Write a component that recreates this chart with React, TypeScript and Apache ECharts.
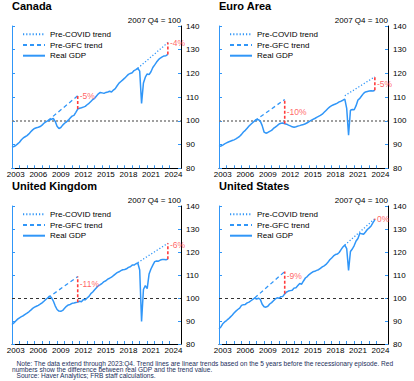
import React, { useEffect, useRef } from 'react';
import * as echarts from 'echarts';

// quarterly categories 2003Q1 .. 2025Q3 (axis runs a little past the data)
const quarters: string[] = [];
for (let y = 2003; y <= 2025; y++) {
  for (let q = 1; q <= 4; q++) {
    if (quarters.length < 91) quarters.push(`${y}Q${q}`);
  }
}

// Real GDP, 2007 Q4 = 100, 2003Q1 .. 2023Q4
const canadaGDP = [
  89.0, 89.2, 89.6, 90.3, 91.0, 92.0, 92.8, 93.3, 93.8, 94.5, 95.4, 96.2,
  96.8, 97.1, 97.3, 97.6, 98.2, 99.0, 99.6, 100.0, 100.3, 100.7, 101.0, 99.8,
  97.7, 96.8, 97.2, 98.2, 99.0, 99.6, 100.3, 101.2, 102.0, 102.3, 103.6, 105.0,
  105.3, 105.5, 105.8, 106.1, 106.8, 107.4, 108.2, 109.0, 109.5, 110.5, 111.4, 112.0,
  111.8, 111.6, 112.0, 112.2, 112.5, 112.2, 113.0, 113.6, 114.8, 115.9, 116.6, 117.3,
  118.0, 118.8, 119.6, 120.0, 120.3, 121.2, 121.6, 122.2, 121.0, 107.3, 116.0, 118.4,
  119.8, 119.5, 120.7, 122.5, 123.6, 124.8, 125.8, 126.5, 127.0, 127.4, 127.5, 128.0,
];
const euroGDP = [
  89.2, 89.4, 89.8, 90.3, 90.7, 91.1, 91.4, 91.7, 92.0, 92.4, 92.9, 93.5,
  94.3, 95.3, 96.0, 96.9, 97.8, 98.6, 99.3, 100.0, 100.6, 100.5, 99.9, 98.0,
  95.3, 94.8, 95.1, 95.6, 96.0, 96.8, 97.4, 98.0, 98.7, 99.0, 99.1, 98.8,
  98.6, 98.2, 97.9, 97.5, 97.3, 97.5, 97.8, 98.0, 98.3, 98.5, 98.8, 99.2,
  99.7, 100.2, 100.6, 101.0, 101.5, 101.9, 102.3, 102.8, 103.6, 104.4, 105.2, 105.9,
  106.4, 106.8, 107.1, 107.5, 108.0, 108.3, 108.7, 109.2, 105.3, 94.0, 104.5, 104.8,
  104.7, 106.4, 108.8, 109.5, 110.6, 111.6, 112.2, 112.4, 112.6, 112.7, 112.6, 112.9,
];
const ukGDP = [
  88.5, 89.2, 90.0, 90.8, 91.4, 91.9, 92.3, 92.9, 93.4, 94.0, 94.7, 95.5,
  96.0, 96.4, 96.8, 97.3, 97.9, 98.6, 99.4, 100.0, 100.8, 100.2, 98.7, 96.6,
  95.0, 94.3, 94.2, 94.6, 95.5, 96.4, 97.0, 97.2, 97.7, 97.8, 98.0, 98.2,
  98.6, 98.4, 99.3, 99.2, 100.0, 100.7, 101.9, 102.6, 103.6, 104.5, 105.3, 105.8,
  106.4, 107.1, 107.5, 108.2, 108.6, 109.1, 109.7, 110.4, 111.0, 111.4, 111.9, 112.3,
  112.4, 112.7, 113.3, 113.6, 114.3, 114.3, 114.9, 115.2, 112.2, 89.8, 103.7, 105.4,
  104.1, 110.4, 112.6, 114.3, 115.8, 116.1, 116.0, 116.5, 116.7, 116.7, 116.6, 116.9,
];
const usGDP = [
  86.6, 87.4, 88.8, 89.6, 90.2, 90.9, 91.7, 92.5, 93.5, 94.3, 95.0, 95.6,
  96.8, 97.1, 97.2, 97.9, 98.2, 98.8, 99.4, 100.0, 99.5, 99.9, 99.4, 97.3,
  96.2, 96.0, 96.4, 97.4, 98.0, 98.8, 99.6, 100.1, 99.9, 100.6, 100.7, 101.8,
  102.6, 103.0, 103.2, 103.4, 104.3, 104.5, 105.4, 106.3, 106.0, 107.4, 108.7, 109.3,
  110.2, 110.8, 111.4, 111.6, 112.0, 112.3, 112.9, 113.5, 114.0, 114.6, 115.5, 116.6,
  117.4, 118.3, 118.9, 119.1, 119.8, 121.0, 122.2, 123.0, 121.5, 112.0, 120.2, 121.3,
  122.8, 124.8, 125.9, 128.2, 127.9, 127.7, 128.7, 129.8, 130.5, 131.3, 132.8, 134.0,
];

// trend windows
const gfcPeriod = ['2007Q4', '2011Q4'];
const covidPeriod = ['2019Q4', '2023Q4'];

// trend values at the start and end of each window
const canadaGfcTrend = [100, 110.6];
const canadaCovidTrend = [122.2, 133.0];
const euroGfcTrend = [100, 109.0];
const euroCovidTrend = [110.6, 118.6];
const ukGfcTrend = [100, 109.3];
const ukCovidTrend = [115.4, 123.8];
const usGfcTrend = [100, 111.5];
const usCovidTrend = [123.0, 134.5];

// red gap numbers
const canadaGapText = ['-5%', '-4%'];
const euroGapText = ['-10%', '-5%'];
const ukGapText = ['-11%', '-6%'];
const usGapText = ['-9%', '0%'];

const panelTitles = ['Canada', 'Euro Area', 'United Kingdom', 'United States'];
const yTicks = [80, 140, 10];

const BLUE = '#3096f8';
const RED = '#ff3b3b';
const FONT = '"Liberation Sans", Arial, sans-serif';

const idx = (q: string) => quarters.indexOf(q);

const panels = [
  { left: 12, top: 26, h: 142.3, base: { color: '#808080', type: [2, 2], width: 1.5 } },
  { left: 219, top: 26, h: 142.3, base: { color: '#808080', type: [2, 2], width: 1.5 } },
  { left: 12, top: 206, h: 138, base: { color: '#333', type: [3, 3], width: 1 } },
  { left: 219, top: 206, h: 138, base: { color: '#333', type: [3, 3], width: 1 } },
];
const labelFrac = [
  [0, 0],
  [0.5, 0.5],
  [0.3, 0.1],
  [0.2, 0],
];

function panelSeries(p: number, gdp: number[], gfc: number[], covid: number[], gapText: string[]) {
  const g0 = idx(gfcPeriod[0]);
  const g1 = idx(gfcPeriod[1]);
  const c0 = idx(covidPeriod[0]);
  const c1 = idx(covidPeriod[1]);
  const common = { xAxisIndex: p, yAxisIndex: p * 2, symbol: 'none', silent: true };
  const a1 = gfc[1] - labelFrac[p][0] * (gfc[1] - gdp[g1]);
  const a2 = covid[1] - labelFrac[p][1] * (covid[1] - gdp[c1]);
  return [
    {
      ...common,
      type: 'line',
      name: 'Real GDP',
      data: gdp,
      z: 4,
      lineStyle: { color: BLUE, width: 1.5 },
      itemStyle: { color: BLUE },
      markLine: {
        silent: true,
        symbol: ['none', 'none'],
        label: { show: false },
        lineStyle: panels[p].base,
        data: [{ yAxis: 100 }],
        z: 1,
      },
    },
    {
      ...common,
      type: 'line',
      name: 'Pre-GFC trend',
      data: [[g0, gfc[0]], [g1, gfc[1]]],
      lineStyle: { color: BLUE, width: 1.3, type: [4, 3] },
      itemStyle: { color: BLUE },
    },
    {
      ...common,
      type: 'line',
      name: 'Pre-COVID trend',
      data: [[c0, covid[0]], [c1, covid[1]]],
      lineStyle: { color: BLUE, width: 1.3, type: [1.2, 2] },
      itemStyle: { color: BLUE },
    },
    {
      ...common,
      type: 'line',
      name: 'gap1',
      data: [[g1, gdp[g1]], [g1, gfc[1]]],
      lineStyle: { color: RED, width: 1.6, type: [3, 2] },
      z: 5,
    },
    {
      ...common,
      type: 'line',
      name: 'gap2',
      data: [[c1, gdp[c1]], [c1, covid[1]]],
      lineStyle: { color: RED, width: 1.6, type: [3, 2] },
      z: 5,
    },
    {
      xAxisIndex: p,
      yAxisIndex: p * 2,
      silent: true,
      type: 'scatter',
      name: 'gapText',
      symbolSize: 0.1,
      itemStyle: { color: 'rgba(0,0,0,0)' },
      label: { show: true, position: 'right', distance: 2, color: RED, fontSize: 8.5, fontFamily: FONT },
      data: [
        { value: [g1, a1], label: { formatter: gapText[0] } },
        { value: [c1, a2], label: { formatter: gapText[1] } },
      ],
      z: 6,
    },
  ];
}

export default function App() {
  const ref = useRef<HTMLDivElement>(null);
  useEffect(() => {
    document.body.style.margin = '0';
    if (!ref.current) return;
    const chart = echarts.init(ref.current, undefined, { renderer: 'svg' });

    const grids = panels.map((p) => ({ left: p.left, top: p.top, width: 169, height: p.h, containLabel: false }));
    const xAxes = panels.map((_, i) => ({
      type: 'category',
      gridIndex: i,
      data: quarters,
      boundaryGap: false,
      axisLine: { show: true, lineStyle: { color: '#000', width: 1 } },
      axisTick: {
        show: true,
        inside: true,
        length: 3,
        interval: (n: number) => n % 4 === 0 && n > 0 && n <= 84,
        lineStyle: { color: BLUE, width: 1 },
      },
      axisLabel: {
        interval: (n: number) => n % 4 === 2 && ((n - 2) / 4) % 3 === 0,
        formatter: (v: string) => v.slice(0, 4),
        fontSize: 8,
        margin: 2,
        color: '#000',
        fontFamily: FONT,
      },
      splitLine: { show: false },
    }));
    const yAxes: any[] = [];
    panels.forEach((_, i) => {
      yAxes.push({
        type: 'value',
        gridIndex: i,
        position: 'right',
        min: yTicks[0],
        max: yTicks[1],
        interval: yTicks[2],
        axisLine: { show: true, lineStyle: { color: '#000', width: 1 } },
        axisTick: { show: true, inside: true, length: 3, lineStyle: { color: BLUE } },
        axisLabel: { fontSize: 8, margin: 5, color: '#000', fontFamily: FONT },
        splitLine: { show: false },
      });
      yAxes.push({
        type: 'value',
        gridIndex: i,
        position: 'left',
        min: yTicks[0],
        max: yTicks[1],
        interval: yTicks[2],
        axisLine: { show: true, lineStyle: { color: BLUE, width: 1 } },
        axisTick: { show: true, inside: true, length: 3, lineStyle: { color: BLUE } },
        axisLabel: { show: false },
        splitLine: { show: false },
      });
    });

    const legends = panels.map((p) => ({
      orient: 'vertical',
      left: p.left + 10,
      top: p.top + 3.3,
      padding: 0,
      itemWidth: 22,
      itemHeight: 10,
      itemGap: 0.7,
      selectedMode: false,
      itemStyle: { opacity: 0, borderWidth: 0 },
      textStyle: { fontSize: 8, lineHeight: 10, color: '#000', fontFamily: FONT },
      data: ['Pre-COVID trend', 'Pre-GFC trend', 'Real GDP'],
    }));

    const series = [
      ...panelSeries(0, canadaGDP, canadaGfcTrend, canadaCovidTrend, canadaGapText),
      ...panelSeries(1, euroGDP, euroGfcTrend, euroCovidTrend, euroGapText),
      ...panelSeries(2, ukGDP, ukGfcTrend, ukCovidTrend, ukGapText),
      ...panelSeries(3, usGDP, usGfcTrend, usCovidTrend, usGapText),
    ];

    const graphics: any[] = [];
    panels.forEach((p, i) => {
      graphics.push({
        type: 'text',
        x: p.left,
        y: p.top - 20,
        style: { text: panelTitles[i], fill: '#000', font: `bold 11px ${FONT}`, textVerticalAlign: 'middle' },
      });
      graphics.push({
        type: 'text',
        x: p.left + 169,
        y: p.top - 6,
        style: { text: '2007 Q4 = 100', font: `8px ${FONT}`, fill: '#000', textAlign: 'right', textVerticalAlign: 'middle' },
      });
    });
    const noteColor = '#1c2f5c';
    const noteFont = `6.6px ${FONT}`;
    graphics.push(
      { type: 'text', x: 16.5, y: 363, style: { text: 'Note: The data extend through 2023:Q4. Trend lines are linear trends based on the 5 years before the recessionary episode. Red', font: noteFont, fill: noteColor, textVerticalAlign: 'middle' } },
      { type: 'text', x: 12, y: 369.3, style: { text: 'numbers show the difference between real GDP and the trend value.', font: noteFont, fill: noteColor, textVerticalAlign: 'middle' } },
      { type: 'text', x: 16.5, y: 375.6, style: { text: 'Source: Haver Analytics; FRB staff calculations.', font: noteFont, fill: noteColor, textVerticalAlign: 'middle' } },
    );

    chart.setOption({
      animation: false,
      backgroundColor: '#fff',
      textStyle: { fontFamily: FONT },
      grid: grids,
      xAxis: xAxes,
      yAxis: yAxes,
      legend: legends,
      series,
      graphic: graphics,
    });
    return () => chart.dispose();
  }, []);
  return <div ref={ref} style={{ width: 414, height: 381 }} />;
}
